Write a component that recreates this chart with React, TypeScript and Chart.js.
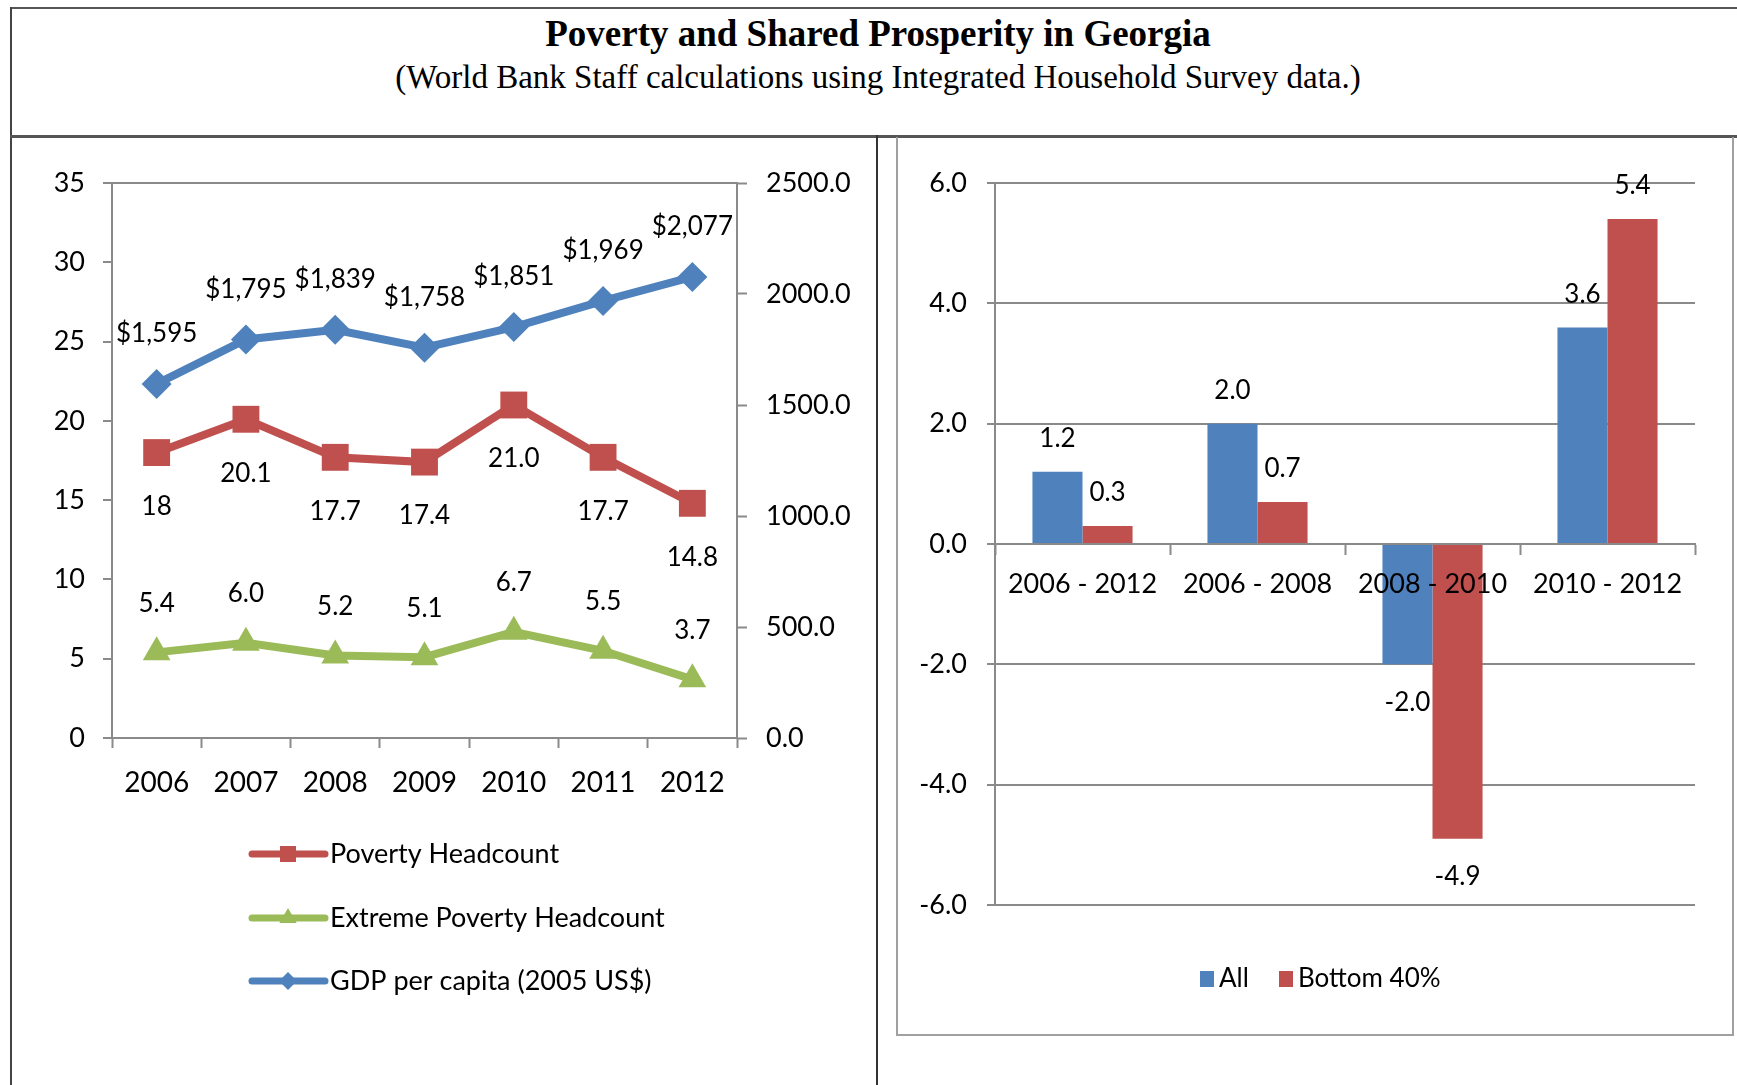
import React, { useEffect, useRef } from "react";
import { Chart, registerables } from "chart.js";

Chart.register(...registerables);

// ---------- data ----------
const years = ["2006", "2007", "2008", "2009", "2010", "2011", "2012"];
const povertyHeadcount = [18, 20.1, 17.7, 17.4, 21.0, 17.7, 14.8];
const povertyLabels = ["18", "20.1", "17.7", "17.4", "21.0", "17.7", "14.8"];
const extremePovertyHeadcount = [5.4, 6.0, 5.2, 5.1, 6.7, 5.5, 3.7];
const gdpPerCapita = [1595, 1795, 1839, 1758, 1851, 1969, 2077];

const periods = ["2006 - 2012", "2006 - 2008", "2008 - 2010", "2010 - 2012"];
const allGrowth = [1.2, 2.0, -2.0, 3.6];
const bottom40Growth = [0.3, 0.7, -4.9, 5.4];

const leftAxisRange = [0, 35];
const rightAxisRange = [0, 2500];
const barAxisRange = [-6, 6];

// ---------- styles ----------
const RED = "#C0504D";
const GREEN = "#9BBB59";
const BLUE = "#4F81BD";
const GRAY = "#8a8a8a";
const FONT = "Lato";

function drawMarker(ctx: CanvasRenderingContext2D, style: string, x: number, y: number, r: number, color: string) {
  ctx.fillStyle = color;
  ctx.beginPath();
  if (style === "rect") {
    ctx.rect(x - r, y - r, 2 * r, 2 * r);
  } else if (style === "triangle") {
    ctx.moveTo(x, y - r);
    ctx.lineTo(x + r * 0.866, y + r * 0.5);
    ctx.lineTo(x - r * 0.866, y + r * 0.5);
    ctx.closePath();
  } else {
    ctx.moveTo(x - r, y);
    ctx.lineTo(x, y - r);
    ctx.lineTo(x + r, y);
    ctx.lineTo(x, y + r);
    ctx.closePath();
  }
  ctx.fill();
}

export default function App() {
  const leftRef = useRef<HTMLCanvasElement | null>(null);
  const rightRef = useRef<HTMLCanvasElement | null>(null);

  useEffect(() => {
    let left: Chart | null = null;
    let right: Chart | null = null;
    let cancelled = false;

    const build = () => {
      if (cancelled || !leftRef.current || !rightRef.current) return;
      Chart.defaults.font.family = FONT;
      Chart.defaults.color = "#000";

      const lineFormats = [
        (_v: number, i: number) => povertyLabels[i],
        (v: number) => v.toFixed(1),
        (v: number) => "$" + v.toLocaleString("en-US"),
      ];
      const lineOffsets = [54, -49, -50];

      const lineLabelsPlugin = {
        id: "lineLabels",
        afterDatasetsDraw(chart: any) {
          const ctx = chart.ctx as CanvasRenderingContext2D;
          ctx.save();
          ctx.font = `26px ${FONT}`;
          ctx.fillStyle = "#000";
          ctx.textAlign = "center";
          ctx.textBaseline = "middle";
          chart.data.datasets.forEach((ds: any, i: number) => {
            const meta = chart.getDatasetMeta(i);
            meta.data.forEach((pt: any, j: number) => {
              ctx.fillText(lineFormats[i](ds.data[j], j), pt.x, pt.y + lineOffsets[i]);
            });
          });
          ctx.restore();
        },
      };

      const lineLegendPlugin = {
        id: "lineLegend",
        afterDraw(chart: any) {
          const ctx = chart.ctx as CanvasRenderingContext2D;
          const rows = [714, 778, 841];
          const sizes = [8, 10, 9];
          ctx.save();
          chart.data.datasets.forEach((ds: any, i: number) => {
            const y = rows[i];
            ctx.strokeStyle = ds.borderColor;
            ctx.lineWidth = 7;
            ctx.lineCap = "round";
            ctx.beginPath();
            ctx.moveTo(240, y);
            ctx.lineTo(313, y);
            ctx.stroke();
            drawMarker(ctx, ds.pointStyle, 276, y, sizes[i], ds.borderColor);
            ctx.font = `27px ${FONT}`;
            ctx.fillStyle = "#000";
            ctx.textAlign = "left";
            ctx.textBaseline = "middle";
            ctx.fillText(ds.label, 318, y);
          });
          ctx.restore();
        },
      };

      left = new Chart(leftRef.current, {
        type: "line",
        data: {
          labels: years,
          datasets: [
            {
              label: "Poverty Headcount",
              data: povertyHeadcount,
              yAxisID: "y",
              borderColor: RED,
              backgroundColor: RED,
              borderWidth: 8,
              pointStyle: "rect",
              pointRadius: 19,
              pointBorderWidth: 0,
              pointBackgroundColor: RED,
            },
            {
              label: "Extreme Poverty Headcount",
              data: extremePovertyHeadcount,
              yAxisID: "y",
              borderColor: GREEN,
              backgroundColor: GREEN,
              borderWidth: 8,
              pointStyle: "triangle",
              pointRadius: 16,
              pointBorderWidth: 0,
              pointBackgroundColor: GREEN,
            },
            {
              label: "GDP per capita (2005 US$)",
              data: gdpPerCapita,
              yAxisID: "y1",
              borderColor: BLUE,
              backgroundColor: BLUE,
              borderWidth: 8,
              pointStyle: "rectRot",
              pointRadius: 15,
              pointBorderWidth: 0,
              pointBackgroundColor: BLUE,
            },
          ],
        } as any,
        options: {
          responsive: false,
          animation: false,
          events: [],
          layout: { padding: { top: 43, left: 0, right: 0, bottom: 267 } },
          plugins: { legend: { display: false }, tooltip: { enabled: false } },
          scales: {
            x: {
              offset: true,
              grid: { offset: true, drawOnChartArea: false, tickLength: 10, tickColor: GRAY, tickWidth: 2 },
              border: { color: GRAY, width: 2 },
              ticks: { font: { size: 28 }, color: "#000", padding: 18, maxRotation: 0 },
              afterFit: (s: any) => {
                s.height = 80;
              },
            },
            y: {
              position: "left",
              min: leftAxisRange[0],
              max: leftAxisRange[1],
              ticks: { stepSize: 5, font: { size: 27 }, color: "#000", padding: 18 },
              grid: {
                color: (c: any) => (c.tick && c.tick.value === leftAxisRange[1] ? GRAY : "rgba(0,0,0,0)"),
                tickColor: GRAY,
                tickLength: 9,
                lineWidth: 2,
                tickWidth: 2,
              },
              border: { color: GRAY, width: 2 },
              afterFit: (s: any) => {
                s.width = 100;
              },
            },
            y1: {
              position: "right",
              min: rightAxisRange[0],
              max: rightAxisRange[1],
              ticks: {
                stepSize: 500,
                font: { size: 27 },
                color: "#000",
                padding: 19,
                callback: (v: any) => Number(v).toFixed(1),
              },
              grid: { drawOnChartArea: false, tickColor: GRAY, tickLength: 10, tickWidth: 2 },
              border: { color: GRAY, width: 2 },
              afterFit: (s: any) => {
                s.width = 137;
              },
            },
          },
        } as any,
        plugins: [lineLabelsPlugin, lineLegendPlugin],
      });

      const barLabelsPlugin = {
        id: "barLabels",
        afterDatasetsDraw(chart: any) {
          const ctx = chart.ctx as CanvasRenderingContext2D;
          ctx.save();
          ctx.font = `26px ${FONT}`;
          ctx.fillStyle = "#000";
          ctx.textAlign = "center";
          ctx.textBaseline = "middle";
          chart.data.datasets.forEach((ds: any, i: number) => {
            const meta = chart.getDatasetMeta(i);
            meta.data.forEach((bar: any, j: number) => {
              const v = ds.data[j];
              const y = v >= 0 ? bar.y - 33 : bar.y + 38;
              ctx.fillText(v.toFixed(1), bar.x, y);
            });
          });
          ctx.restore();
        },
      };

      const barLegendPlugin = {
        id: "barLegend",
        afterDraw(chart: any) {
          const ctx = chart.ctx as CanvasRenderingContext2D;
          const y = 840;
          const starts = [303, 382];
          ctx.save();
          chart.data.datasets.forEach((ds: any, i: number) => {
            ctx.fillStyle = ds.backgroundColor;
            ctx.fillRect(starts[i], y - 8, 14, 16);
            ctx.font = `26px ${FONT}`;
            ctx.fillStyle = "#000";
            ctx.textAlign = "left";
            ctx.textBaseline = "middle";
            ctx.fillText(ds.label, starts[i] + 19, y);
          });
          ctx.restore();
        },
      };

      right = new Chart(rightRef.current, {
        type: "bar",
        data: {
          labels: periods,
          datasets: [
            { label: "All", data: allGrowth, backgroundColor: BLUE, categoryPercentage: 0.572, barPercentage: 1 },
            { label: "Bottom 40%", data: bottom40Growth, backgroundColor: RED, categoryPercentage: 0.572, barPercentage: 1 },
          ],
        } as any,
        options: {
          responsive: false,
          animation: false,
          events: [],
          layout: { padding: { top: 44, left: 0, right: 40, bottom: 131 } },
          plugins: { legend: { display: false }, tooltip: { enabled: false } },
          scales: {
            x: {
              position: { y: 0 },
              grid: { drawOnChartArea: false, tickLength: 10, tickColor: GRAY, tickWidth: 2, offset: true, z: 1 },
              border: { color: GRAY, width: 2, z: 1 },
              ticks: { font: { size: 27 }, color: "#000", padding: 14, maxRotation: 0, z: 2 },
            },
            y: {
              min: barAxisRange[0],
              max: barAxisRange[1],
              ticks: {
                stepSize: 2,
                font: { size: 27 },
                color: "#000",
                padding: 20,
                callback: (v: any) => Number(v).toFixed(1),
              },
              grid: { color: GRAY, lineWidth: 2, tickLength: 8, tickColor: GRAY, tickWidth: 2 },
              border: { color: GRAY, width: 2 },
              afterFit: (s: any) => {
                s.width = 98;
              },
            },
          },
        } as any,
        plugins: [barLabelsPlugin, barLegendPlugin],
      });
    };

    const fontsReady = (document as any).fonts
      ? Promise.all([
          (document as any).fonts.load(`26px ${FONT}`),
          (document as any).fonts.load(`bold 37px "Liberation Serif"`),
        ]).catch(() => null)
      : Promise.resolve(null);
    fontsReady.then(build);

    return () => {
      cancelled = true;
      if (left) left.destroy();
      if (right) right.destroy();
    };
  }, []);

  const line = (s: React.CSSProperties) => <div style={{ position: "absolute", ...s }} />;

  return (
    <div
      style={{
        position: "absolute",
        left: 0,
        top: 0,
        width: 1737,
        height: 1085,
        background: "#fff",
        overflow: "hidden",
      }}
    >
      {/* frame lines */}
      {line({ left: 10, top: 7, width: 1727, height: 2, background: "#555" })}
      {line({ left: 10, top: 7, width: 2, height: 1078, background: "#444" })}
      {line({ left: 10, top: 135, width: 1727, height: 3, background: "#555" })}
      {line({ left: 876, top: 135, width: 2, height: 950, background: "#333" })}
      {line({
        left: 896,
        top: 137,
        width: 838,
        height: 899,
        border: "2px solid #a0a0a0",
        borderTop: "none",
        boxSizing: "border-box",
      })}

      <div
        style={{
          position: "absolute",
          left: 0,
          top: 15,
          width: 1756,
          textAlign: "center",
          fontFamily: '"Liberation Serif", "Times New Roman", serif',
          fontWeight: "bold",
          fontSize: 37,
          lineHeight: "37px",
          color: "#000",
          whiteSpace: "nowrap",
        }}
      >
        Poverty and Shared Prosperity in Georgia
      </div>
      <div
        style={{
          position: "absolute",
          left: 0,
          top: 61,
          width: 1756,
          textAlign: "center",
          fontFamily: '"Liberation Serif", "Times New Roman", serif',
          fontSize: 33,
          lineHeight: "33px",
          color: "#000",
          whiteSpace: "nowrap",
        }}
      >
        (World Bank Staff calculations using Integrated Household Survey data.)
      </div>

      <canvas
        ref={leftRef}
        width={862}
        height={945}
        style={{ position: "absolute", left: 12, top: 140, width: 862, height: 945 }}
      />
      <canvas
        ref={rightRef}
        width={838}
        height={897}
        style={{ position: "absolute", left: 897, top: 139, width: 838, height: 897 }}
      />
    </div>
  );
}
